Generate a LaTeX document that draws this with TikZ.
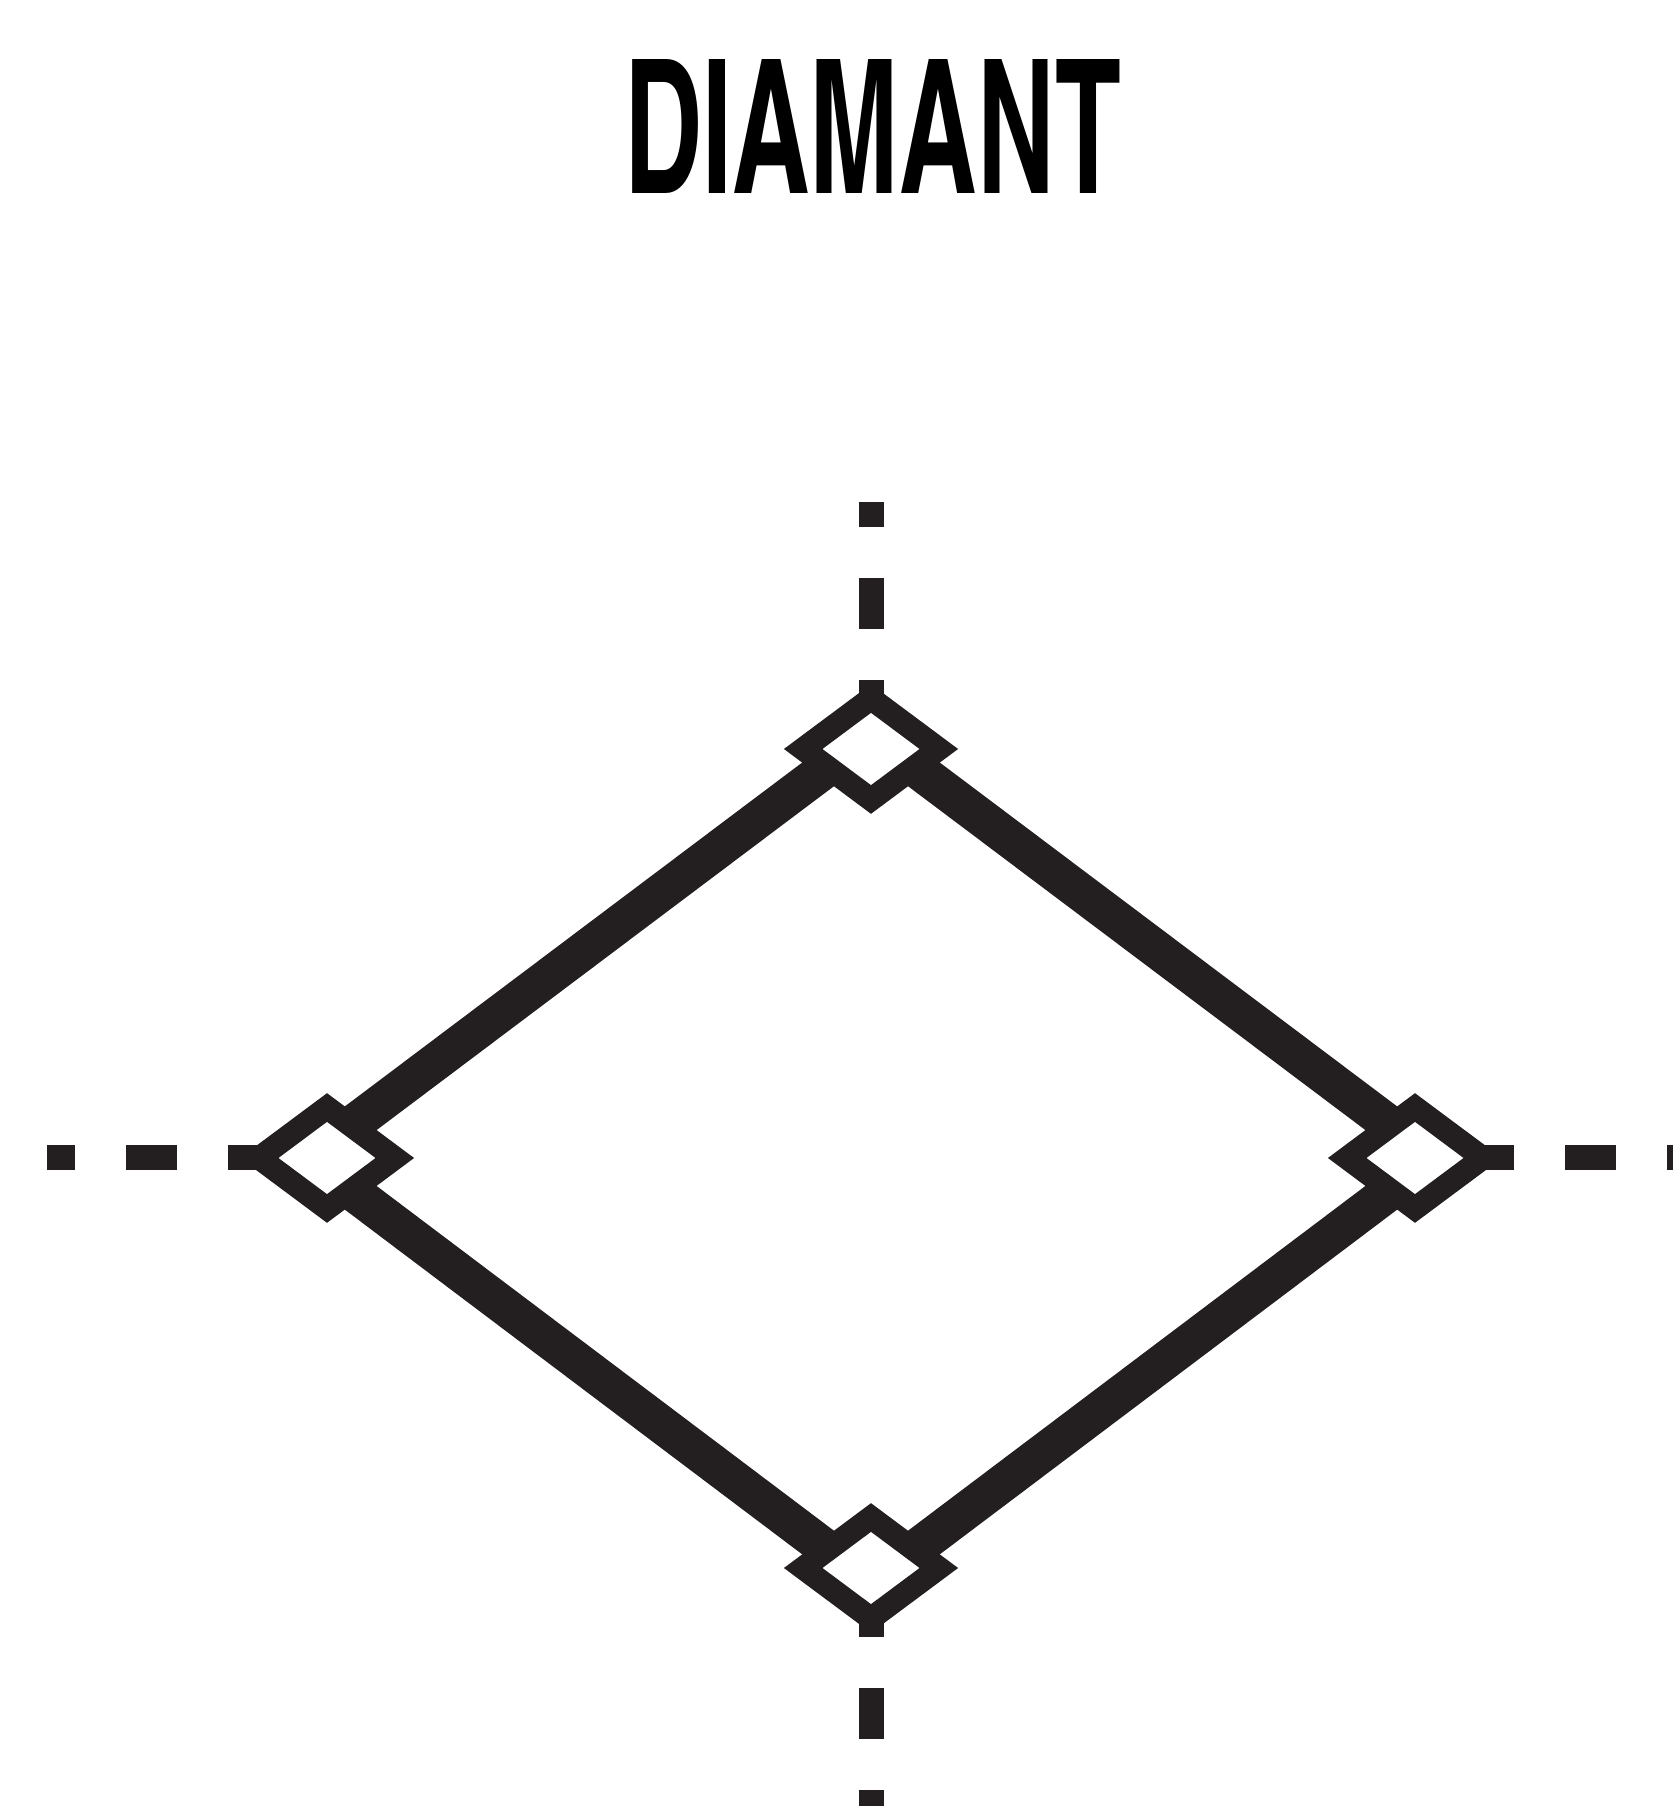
\documentclass[tikz,border=0pt]{standalone}
\usepackage{graphicx}
\usepackage{fontspec}
\IfFontExistsTF{texgyreheroscn-bold.otf}
  {\newfontfamily\titlefont{texgyreheroscn-bold.otf}}
  {\newfontfamily\titlefont{texgyreheros-bold.otf}}
\usetikzlibrary{shapes.geometric,backgrounds}
\definecolor{ink}{HTML}{231F20}

\begin{document}
\begin{tikzpicture}[
    joint/.style={shape=diamond, draw=ink, fill=white, line width=0.23cm,
        inner sep=0pt, minimum width=1.452cm, minimum height=1.105cm},
    band/.style={draw=ink, line width=0.38cm},
    stub/.style={draw=ink, line width=0.25cm, dash pattern=on 0.51cm off 0.51cm}
]
    \useasboundingbox (0,0) rectangle (16.73,18.06);

    % Draw the title
    \node[anchor=base, inner sep=0pt] (title) at (8.727,16.127)
        {\resizebox{4.97cm}{1.34cm}{\titlefont DIAMANT}};

    % Draw the four corner joints
    \node[joint] (T) at (8.71,10.57) {};
    \node[joint] (L) at (3.27,6.48) {};
    \node[joint] (R) at (14.15,6.48) {};
    \node[joint] (B) at (8.71,2.38) {};

    % Free ends of the dashed stubs
    \coordinate (Tend) at (8.71,13.04);
    \coordinate (Lend) at (0.473,6.48);
    \coordinate (Rend) at (16.73,6.48);
    \coordinate (Bend) at (8.71,0);

    \begin{pgfonlayer}{background}
        % Draw the thick sides, pushed outwards a little
        \draw[band] ([yshift=1.44mm]L.center) -- ([yshift=1.44mm]T.center);
        \draw[band] ([yshift=1.44mm]T.center) -- ([yshift=1.44mm]R.center);
        \draw[band] ([yshift=-1.44mm]R.center) -- ([yshift=-1.44mm]B.center);
        \draw[band] ([yshift=-1.44mm]B.center) -- ([yshift=-1.44mm]L.center);

        % Draw the dashed stubs leaving each joint
        \draw[stub, dash phase=0.84cm] (T.center) -- (Tend);
        \draw[stub, dash phase=0.84cm] (B.center) -- (Bend);
        \draw[stub, dash phase=0.537cm] (L.center) -- (Lend);
        \draw[stub, dash phase=0.537cm] (R.center) -- (Rend);
    \end{pgfonlayer}
\end{tikzpicture}
\end{document}
